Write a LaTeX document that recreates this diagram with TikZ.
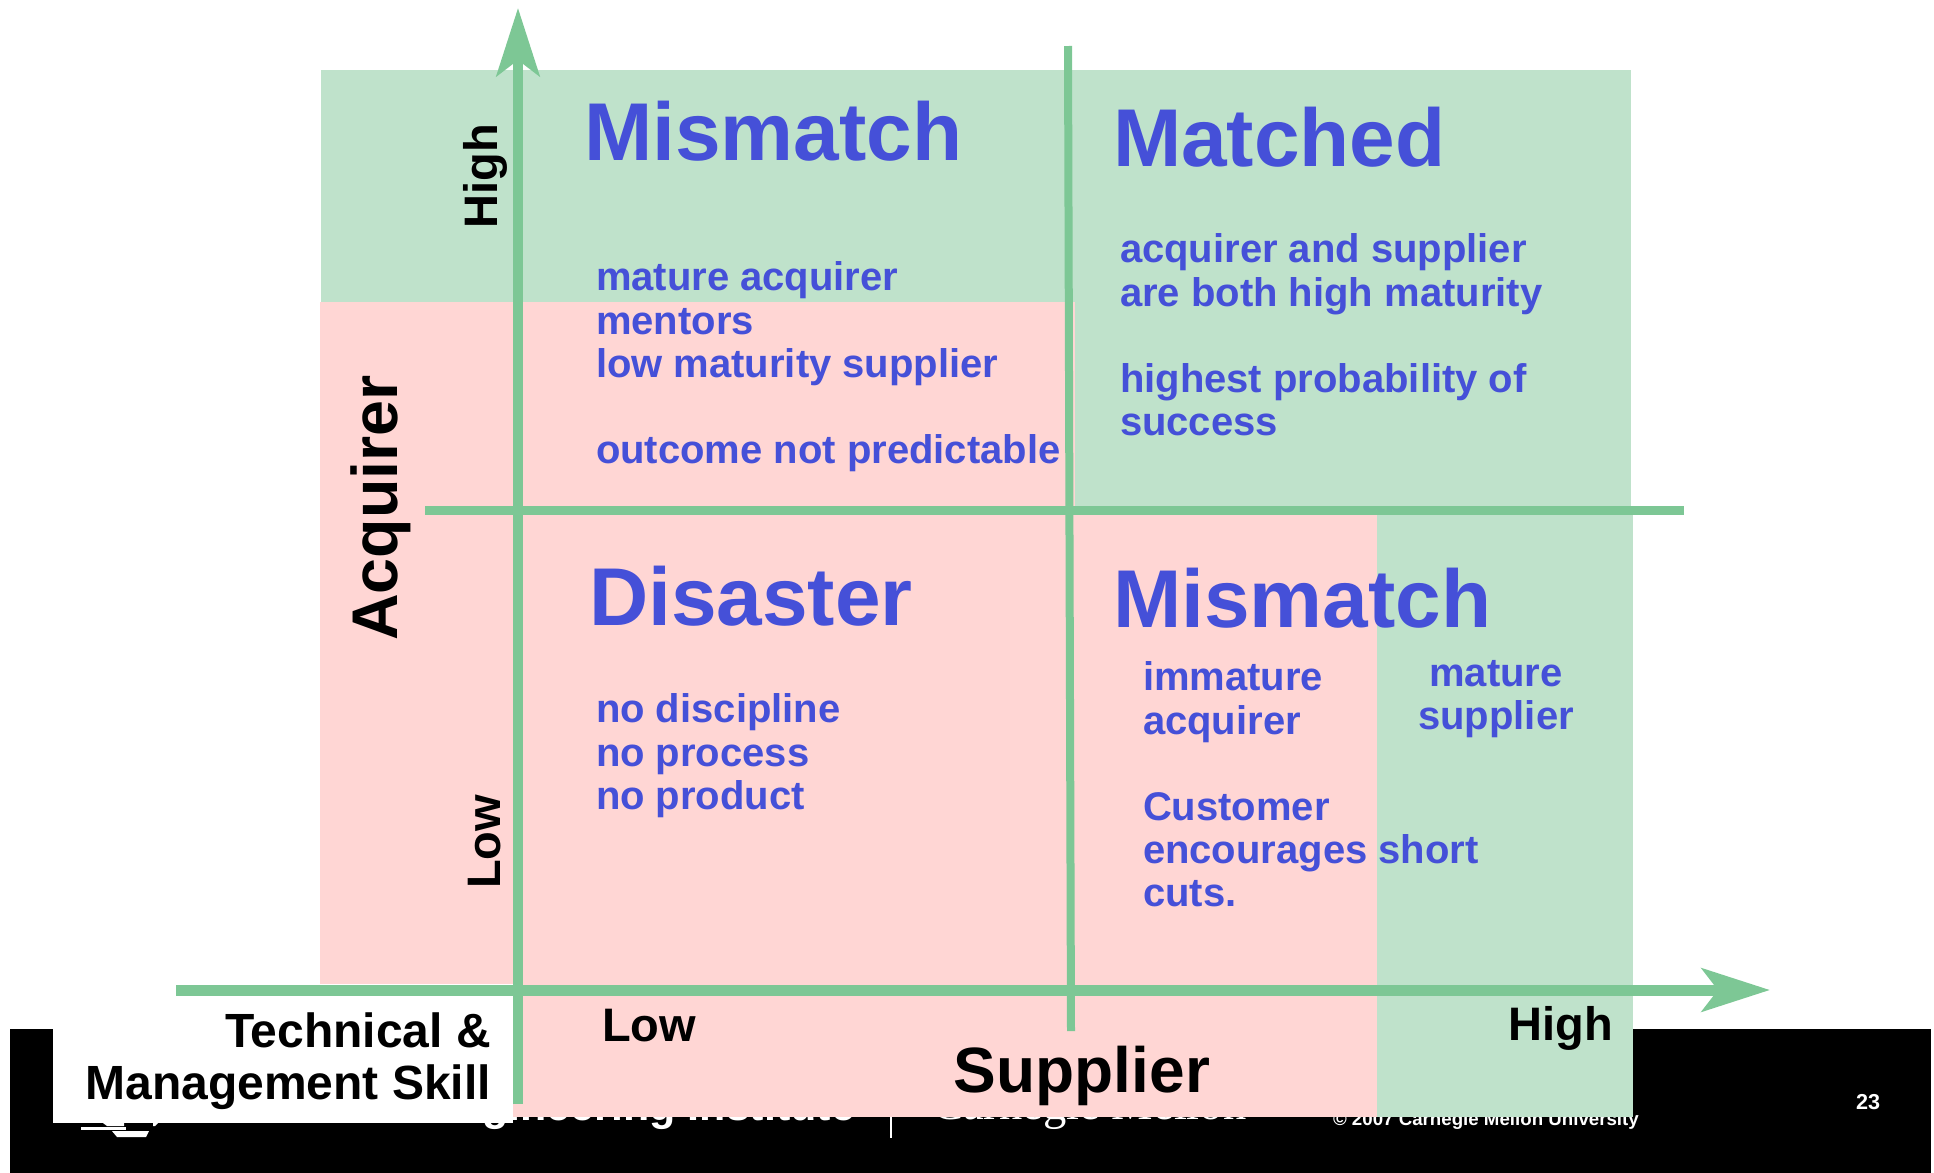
\documentclass[tikz,border=0pt]{standalone}
\usepackage{fontspec}
\setmainfont{Liberation Sans}
\newfontfamily\serifname{Liberation Serif}
\usetikzlibrary{positioning, arrows.meta}
\definecolor{axisgreen}{HTML}{7DC795}
\definecolor{palegreen}{HTML}{BFE2CB}
\definecolor{palepink}{HTML}{FFD6D4}
\definecolor{titleblue}{HTML}{4550D8}
\begin{document}
\begin{tikzpicture}[x=0.5pt,y=-0.5pt,every node/.style={inner sep=0pt,outer sep=0pt,font=\bfseries},
    titulo/.style={text=titleblue,font=\fontsize{41}{41}\selectfont\bfseries,anchor=base west},
    cuerpo/.style={text=titleblue,font=\fontsize{20}{21.6}\selectfont\bfseries,align=left,anchor=north west},
    rotulo/.style={font=\fontsize{23.5}{26}\selectfont\bfseries,anchor=base},
    eje/.style={axisgreen,line width=5pt},
    flecha/.style={eje,-{Stealth[length=34pt,width=21.5pt,inset=8pt]}},
    pie/.style={text=white,anchor=base}]
    % El fondo va primero, el pie queda tapado por los rectangulos
    \useasboundingbox (0,0) rectangle (1934,1173);
    \fill[black] (10,1029) rectangle (1931,1173);
    \node[pie,anchor=base east,font=\fontsize{21.5}{21.5}\selectfont\bfseries] (sei) at (855,1120) {Software Engineering Institute};
    \node[pie,anchor=base west,font=\fontsize{23.3}{23.3}\serifname\selectfont] (cmu) at (932,1119) {Carnegie Mellon};
    \node[pie,anchor=base west,font=\fontsize{9.35}{10}\selectfont\bfseries] (copy) at (1333,1125) {© 2007 Carnegie Mellon University};
    \node[pie,font=\fontsize{10.8}{11}\selectfont\bfseries] (pagina) at (1868,1109) {23};
    \fill[white] (81,1127) rectangle (126,1130);
    \fill[white] (112,1131) -- (149,1131) -- (146,1137) -- (117,1137) -- cycle;
    \fill[white] (103,1123) -- (124,1123) -- (124,1126) -- (107,1126) -- cycle;
    \fill[white] (153,1123) -- (158,1123) -- (155,1126) -- (153,1126) -- cycle;
    \fill[white] (890,1110) rectangle (892,1138);

    \fill[palegreen] (321,70) rectangle (1631,510);
    \fill[palepink] (320,302) rectangle (1075,510);
    \fill[palepink] (320,510) rectangle (1377,984);
    \fill[palepink] (513,984) rectangle (1377,1117);
    \fill[palegreen] (1377,510) rectangle (1633,1117);
    \fill[white] (53,995) rectangle (513,1123);

    \coordinate (vbase) at (518,1104);
    \coordinate (vtip) at (518,8);
    \coordinate (hbase) at (176,990);
    \coordinate (htip) at (1770,990);
    \coordinate (mtop) at (1068,46);
    \coordinate (mbottom) at (1071,1031);
    \coordinate (mleft) at (425,510);
    \coordinate (mright) at (1684,510);
    \draw[flecha] (vbase) -- (vtip);
    \draw[flecha,line width=5.5pt] (hbase) -- (htip);
    \draw[eje,line width=4pt] (mtop) -- (mbottom);
    \draw[eje,line width=4.5pt] (mleft) -- (mright);

    \node[titulo] (mismatcha) at (584,160) {Mismatch};
    \node[titulo] (matched) at (1113,166) {Matched};
    \node[titulo] (disaster) at (589,625) {Disaster};
    \node[titulo] (mismatchb) at (1113,627) {Mismatch};

    \node[cuerpo] (mentor) at (596,262) {mature acquirer\\mentors\\low maturity supplier\\[21.6pt]outcome not predictable};
    \node[cuerpo] (both) at (1120,234) {acquirer and supplier\\are both high maturity\\[21.6pt]highest probability of\\success};
    \node[cuerpo] (nothing) at (596,694) {no discipline\\no process\\no product};
    \node[cuerpo] (immature) at (1143,662) {immature\\acquirer\\[21.6pt]Customer\\encourages short\\cuts.};
    \node[cuerpo,align=center,anchor=north] (maturesup) at (1496,660) {mature\\supplier};

    \node[rotulo,rotate=90] (high) at (497,176) {High};
    \node[rotulo,rotate=90] (low) at (500,842) {Low};
    \node[rotulo,rotate=90,font=\fontsize{32.3}{32}\selectfont\bfseries] (acquirer) at (397,508) {Acquirer};
    \node[rotulo,font=\fontsize{32}{32}\selectfont\bfseries] (supplier) at (1082,1092) {Supplier};
    \node[rotulo] (lowx) at (649,1041) {Low};
    \node[rotulo] (highx) at (1561,1040) {High};
    \node[rotulo,align=right,anchor=north east,font=\fontsize{24}{26}\selectfont\bfseries] (skill) at (491,1013) {Technical \&\\Management Skill};
\end{tikzpicture}
\end{document}
